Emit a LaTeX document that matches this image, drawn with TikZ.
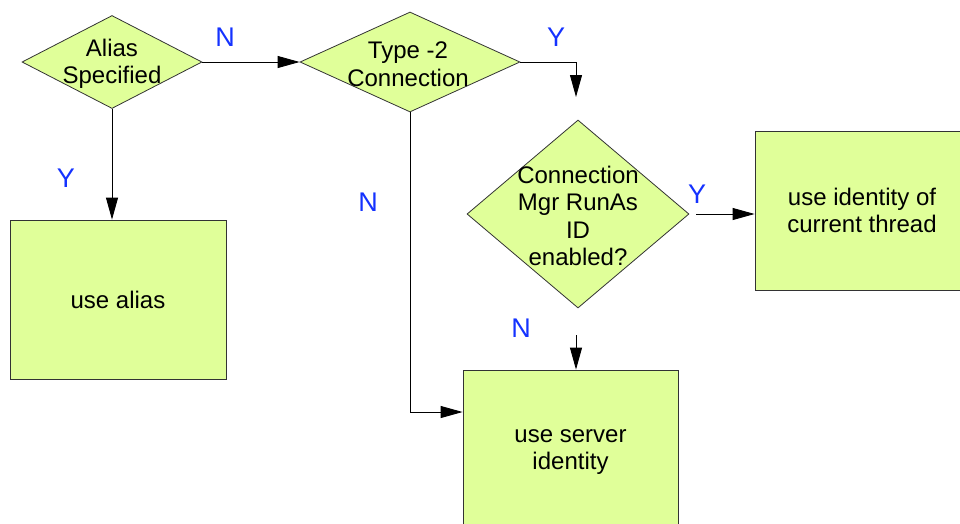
\documentclass[tikz,border=0pt]{standalone}
\usepackage{fontspec}
\setmainfont{Liberation Sans}
\usepackage{xcolor}
\usepackage{tikz}
\usetikzlibrary{arrows.meta}
\usetikzlibrary{shapes.geometric}
\definecolor{boxfill}{RGB}{224,255,153}
\definecolor{ynblue}{RGB}{20,50,255}

\begin{document}
\begin{tikzpicture}[x=1pt,y=-1pt,
    decision/.style={diamond,draw=black!80,fill=boxfill,inner sep=0pt,line width=0.8pt},
    action/.style={rectangle,draw=black!80,fill=boxfill,inner sep=0pt,line width=0.8pt,
        align=center,font=\fontsize{24}{27}\selectfont},
    txt/.style={align=center,font=\fontsize{24}{27.5}\selectfont},
    yn/.style={text=ynblue,font=\fontsize{27}{30}\selectfont},
    link/.style={line width=0.9pt,-{Triangle[length=22pt,width=12pt]}}]
         \useasboundingbox (0,0) rectangle (960,523);
         \clip (0,0) rectangle (960,523);
         % decisions
         \node [decision,minimum width=180pt,minimum height=93pt] (alias) at (112,62) {};
         \node [txt] (aliastxt) at (112,64) {Alias\\Specified};
         \node [decision,minimum width=220pt,minimum height=100pt] (type2) at (410,62) {};
         \node [txt] (type2txt) at (408,64) {Type -2\\Connection};
         \node [decision,minimum width=222pt,minimum height=188pt] (runas) at (578,214) {};
         \node [txt] (runastxt) at (578,216) {Connection\\Mgr RunAs\\ID\\enabled?};
         % actions
         \node [action,minimum width=216pt,minimum height=159pt] (usealias) at (118,299.5) {\raisebox{-3pt}{use alias}};
         \node [action,minimum width=214pt,minimum height=159pt] (usethread) at (862,210.5) {use identity of\\current thread};
         \node [action,minimum width=215pt,minimum height=164pt] (useserver) at (570.5,452) {\raisebox{-4pt}{use server}\\\raisebox{-4pt}{identity}};
         % free ends
         \coordinate (type2y) at (576,97);
         \coordinate (runasy) at (696,214);
         \coordinate (runasn) at (576,335);
         % connectors
         \draw [link] (alias.east) -- (type2.west);
         \draw [link] (alias.south) -- (alias.south |- usealias.north);
         \draw [link] (type2.east) -| (type2y);
         \draw [link] (type2.south) |- (useserver.west |- 0,412);
         \draw [link] (runasy) -- (usethread.west |- runasy);
         \draw [link] (runasn) -- (useserver.north -| runasn);
         % Y / N
         \node [yn] (n1) at (225,37) {N};
         \node [yn] (y2) at (556,37) {Y};
         \node [yn] (y1) at (66,178) {Y};
         \node [yn] (n2) at (368,202) {N};
         \node [yn] (y3) at (697,194) {Y};
         \node [yn] (n3) at (521,328) {N};
        \end{tikzpicture}
\end{document}
